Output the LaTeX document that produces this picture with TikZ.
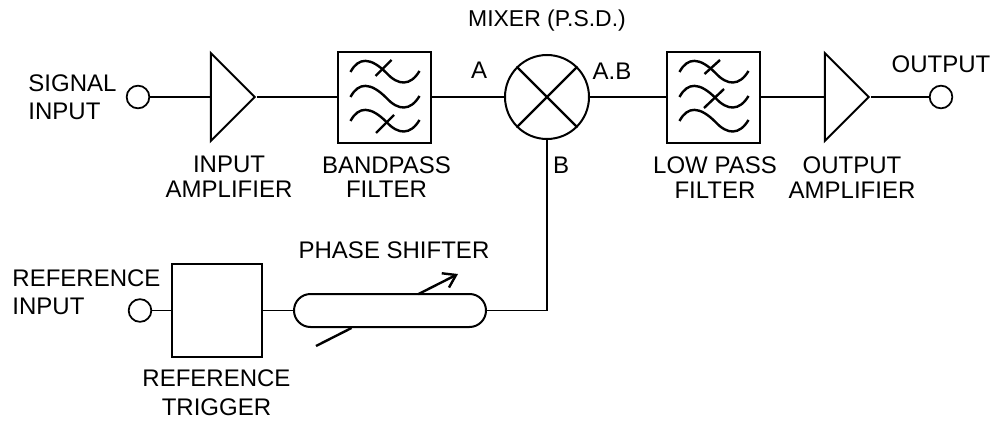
\documentclass[tikz,border=0pt]{standalone}
\usepackage{fontspec}
\setmainfont{Liberation Sans}
\usetikzlibrary{shapes.geometric, shapes.misc, arrows.meta, positioning, calc}

\begin{document}
\begin{tikzpicture}[
			x=0.75pt,y=-0.75pt,
			every node/.style={font=\fontsize{18pt}{18.5pt}\selectfont},
			wire/.style={line width=1.3pt},
			jack/.style={circle,draw,line width=1.3pt,minimum size=17pt,inner sep=0pt},
			filterbox/.style={rectangle,draw,line width=1.5pt,minimum width=69.75pt,minimum height=68.25pt,inner sep=0pt},
			amp/.style={isosceles triangle,isosceles triangle stretches,draw,line width=1.5pt,minimum width=66pt,minimum height=33pt,inner sep=0pt},
			mixerbox/.style={circle,draw,line width=1.5pt,minimum size=63pt,inner sep=0pt},
			trigbox/.style={rectangle,draw,line width=1.5pt,minimum width=67.5pt,minimum height=69.75pt,inner sep=0pt},
			shifter/.style={rounded rectangle,draw,line width=1.5pt,minimum width=144pt,minimum height=24.75pt,inner sep=0pt},
			caption/.style={align=center,inner sep=0pt},
			sweep/.style={line width=1.8pt}
			]
			\useasboundingbox (0,0) rectangle (1000,421);

			% Nodes
			\node (siginput) [jack] at (138,97) {};
			\node (inamp) [amp] at (229,97) {};
			\node (bandpass) [filterbox] at (384.5,97) {};
			\node (mixer) [mixerbox] at (547,97) {};
			\node (lowpass) [filterbox] at (713.5,97) {};
			\node (outamp) [amp] at (843,97) {};
			\node (outjack) [jack] at (941,97) {};
			\node (refinput) [jack] at (140,310.5) {};
			\node (trigger) [trigbox] at (217,310.5) {};
			\node (phase) [shifter] at (390,310.5) {};
			\coordinate (corner) at (mixer.south |- phase.east);
			\coordinate (sweepstart) at (316,346);
			\coordinate (sweepend) at (458,274);

			% Waves
			\foreach \f in {bandpass,lowpass}
			\foreach \w in {0,25,49}
			\draw [sweep,shift={(\f.center)}] (-34,{-25+\w}) .. controls (-26,{-40+\w}) and (-14,{-40+\w}) .. (2,{-24+\w}) .. controls (14,{-11+\w}) and (26,{-11+\w}) .. (35,{-26+\w});
			\draw [sweep,shift={(bandpass.center)}] (-9,-21) -- (7,-37) (-8.5,36) -- (9.5,18);
			\draw [sweep,shift={(lowpass.center)}] (-9,-23) -- (6.5,-37) (-9.5,11) -- (10.5,-8);
			\draw [sweep] (mixer.45) -- (mixer.225) (mixer.135) -- (mixer.315);

			% Labels
			\node (mixlabel) [caption,font=\fontsize{17.2pt}{18.5pt}\selectfont] at (547,21) {MIXER (P.S.D.)};
			\node (siglabel) [caption,align=left] at (72.5,97) {SIGNAL\\[2.5pt]INPUT};
			\node (inamplabel) [caption] at (229,177) {INPUT\\AMPLIFIER};
			\node (bandlabel) [caption] at (386.5,177) {BANDPASS\\FILTER};
			\node (alabel) [caption] at (479,70) {A};
			\node (ablabel) [caption] at (612,71) {A.B};
			\node (blabel) [caption] at (561,165) {B};
			\node (lowlabel) [caption] at (715,177.5) {LOW PASS\\FILTER};
			\node (outamplabel) [caption] at (852,177.5) {OUTPUT\\AMPLIFIER};
			\node (outlabel) [caption] at (941,64) {OUTPUT};
			\node (reflabel) [caption,align=left] at (86.5,292) {REFERENCE\\[2.5pt]INPUT};
			\node (triglabel) [caption] at (216.5,392.5) {REFERENCE\\[3pt]TRIGGER};
			\node (phaselabel) [caption] at (394,250) {PHASE SHIFTER};

			% Connectors
			\draw [wire] (siginput) -- (inamp.west);
			\draw [wire] (inamp.east) -- (bandpass);
			\draw [wire] (bandpass) -- (mixer);
			\draw [wire] (mixer) -- (lowpass);
			\draw [wire] (lowpass) -- (outamp.west);
			\draw [wire] (outamp.east) -- (outjack);
			\draw [wire] (refinput) -- (trigger);
			\draw [wire] (trigger) -- (phase);
			\draw [wire] (phase.east) -- (corner) -- (mixer.south);
			\draw [sweep] (sweepstart) -- ($(sweepstart)!0.25!(sweepend)$);
			\draw [sweep,-{Straight Barb[length=9pt,width=12pt]}] ($(sweepstart)!0.72!(sweepend)$) -- (sweepend);

		\end{tikzpicture}
\end{document}
